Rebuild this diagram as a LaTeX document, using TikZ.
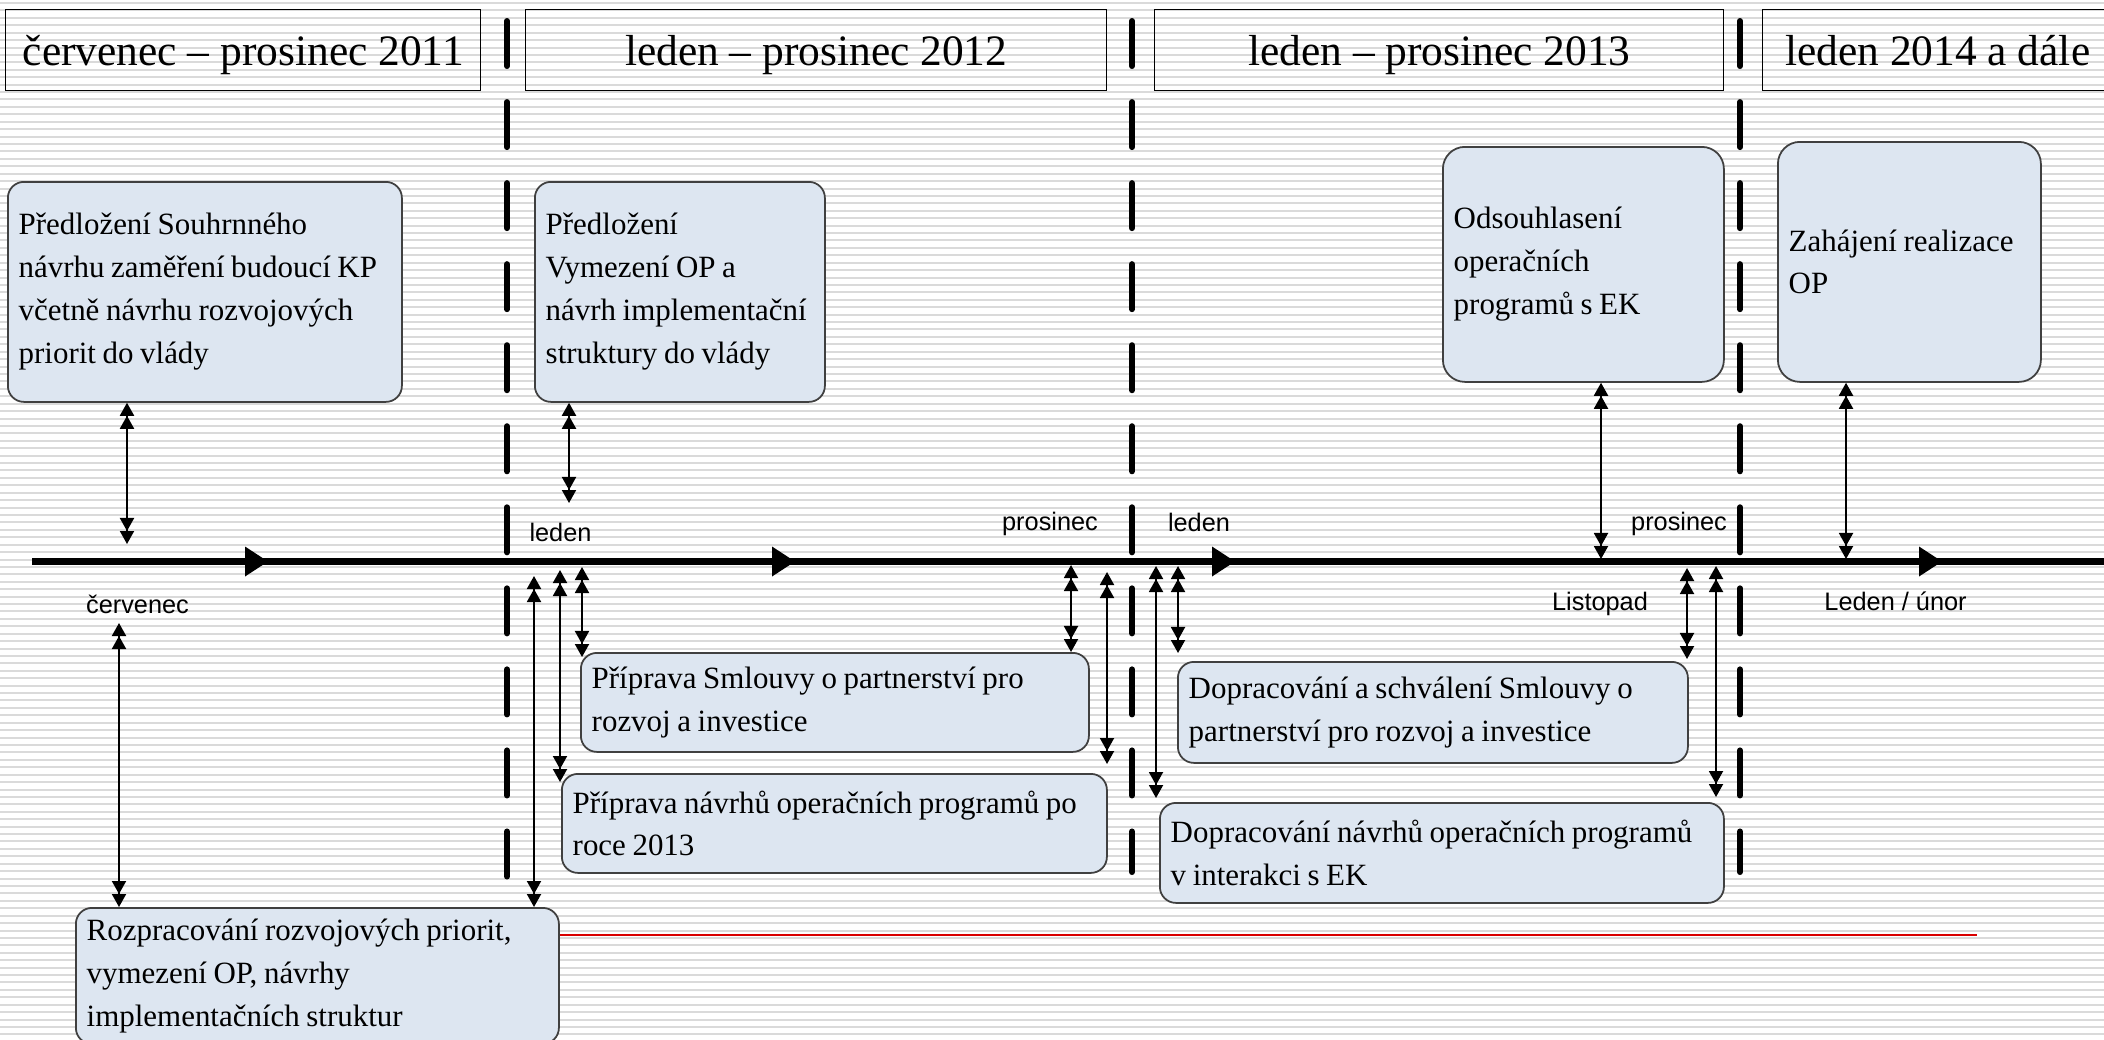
\documentclass[tikz,border=0pt]{standalone}
\usepackage{fontspec}
\setmainfont{Liberation Serif}
\setsansfont{Liberation Sans}
\newfontfamily\taskfont[WordSpace=0.85]{Liberation Serif}
\usetikzlibrary{arrows.meta, positioning}
\definecolor{taskfill}{RGB}{221,230,241}
\definecolor{stripegray}{RGB}{218,218,218}
\tikzset{dtip/.tip={Triangle[length=0.13cm, width=0.14cm] Triangle[length=0.13cm, width=0.14cm]}}
\newcommand{\taskbox}[7][]{%
  % #1=extra options, #2=name, #3=x, #4=y (top left), #5=width, #6=height, #7=text
  \pgfmathsetmacro\boxw{#5*0.01}
  \pgfmathsetmacro\boxh{#6*0.01}
  \node[taskframe, minimum width=\boxw cm, minimum height=\boxh cm, #1] (#2) at (#3,#4) {};
  \node[tasktext, right=0.11cm of #2.west] (#2-text) {#7};
}
\newcommand{\periodbox}[4]{%
  % #1=name, #2=x (left), #3=width, #4=text
  \pgfmathsetmacro\boxw{#3*0.01}
  \node[period, minimum width=\boxw cm] (#1) at (#2,9) {#4};
}

\begin{document}
\begin{tikzpicture}[x=0.01cm, y=-0.01cm,
  period/.style={draw=black, line width=0.4pt, minimum height=0.81cm, inner sep=0pt,
    text height=0.39cm, text depth=0.08cm,
    anchor=north west, font=\fontsize{12.35}{14}\selectfont},
  taskframe/.style={draw=black!75, fill=taskfill, line width=0.5pt, rounded corners=0.16cm,
    anchor=north west, inner sep=0pt},
  tasktext/.style={anchor=west, align=left, inner sep=0pt,
    font=\taskfont\fontsize{8.8}{12.2}\selectfont},
  month/.style={font=\sffamily\fontsize{7.2}{8}\selectfont, anchor=base, inner sep=0pt},
  divider/.style={line width=0.06cm, line cap=round, dash pattern=on 0.45cm off 0.36cm},
  dblarr/.style={line width=0.55pt, dtip-dtip},
]
\useasboundingbox (0,0) rectangle (2104,1039);

% Striped background
\fill[white] (0,0) rectangle (2104,1039);
\foreach \k in {0,...,140}
  \draw[stripegray, line width=0.02cm] (0,{\k*7.42+3}) -- (2104,{\k*7.42+3});

% Year dividers
\draw[divider] (507,21) -- (507,990);
\draw[divider] (1132,21) -- (1132,872);
\draw[divider] (1740,21) -- (1740,872);

% Periods
\periodbox{p2011}{5}{475}{červenec – prosinec 2011}
\periodbox{p2012}{525}{581}{leden – prosinec 2012}
\periodbox{p2013}{1154}{569}{leden – prosinec 2013}
\periodbox{p2014}{1762}{350}{leden 2014 a dále}

% Time axis
\coordinate (axis-l) at (32,561.5);
\coordinate (axis-r) at (2110,561.5);
\draw[line width=0.07cm] (axis-l) -- (axis-r);
\foreach \tx in {268, 795, 1235, 1942}
  \fill (\tx,561.5) -- ++(-23,-15) -- ++(0,30) -- cycle;

% Months on the axis
\node[month] (m-jul11) at (137.5,613) {červenec};
\node[month] (m-jan12) at (560.5,541) {leden};
\node[month] (m-dec12) at (1050,530) {prosinec};
\node[month] (m-jan13) at (1199,531) {leden};
\node[month] (m-dec13) at (1679,530) {prosinec};
\node[month] (m-nov13) at (1600,610) {Listopad};
\node[month] (m-jan14) at (1895.5,610) {Leden / únor};

% Red rule under the tasks
\coordinate (red-end) at (1977,935);

% Tasks above the axis
\taskbox{summary}{7}{181}{394}{220}{Předložení Souhrnného\\návrhu zaměření budoucí KP\\včetně návrhu rozvojových\\priorit do vlády}
\taskbox{scope}{534}{181}{290}{220}{Předložení\\Vymezení OP a\\návrh implementační\\struktury do vlády}
\taskbox[rounded corners=0.22cm]{approval}{1442}{146}{281}{235}{Odsouhlasení\\operačních\\programů s EK}
\taskbox[rounded corners=0.22cm]{launch}{1777}{141}{263}{240}{Zahájení realizace\\OP}

% Tasks below the axis
\taskbox{pa-prep}{580}{652}{508}{99}{Příprava Smlouvy o partnerství pro\\rozvoj a investice}
\taskbox{op-prep}{561}{773}{545}{99}{Příprava návrhů operačních programů po\\roce 2013}
\taskbox{pa-final}{1177}{661}{510}{101}{Dopracování a schválení Smlouvy o\\partnerství pro rozvoj a investice}
\taskbox{op-final}{1159}{802}{564}{100}{Dopracování návrhů operačních programů\\v interakci s EK}
\taskbox{priorities}{75}{907}{483}{136}{Rozpracování rozvojových priorit,\\vymezení OP, návrhy\\implementačních struktur}

\draw[red!85!black, line width=0.4pt] (red-end -| priorities.east) -- (red-end);

% Arrow ends
\coordinate (a1) at (127,544);
\coordinate (a2) at (569,503);
\coordinate (a3) at (119,623);
\coordinate (a4) at (534,576);
\coordinate (a5) at (560,570);   \coordinate (a5e) at (560,782);
\coordinate (a6) at (582,567);   \coordinate (a6e) at (582,657);
\coordinate (a7) at (1071,565);
\coordinate (a8) at (1107,572);  \coordinate (a8e) at (1107,764);
\coordinate (a9) at (1156,566);  \coordinate (a9e) at (1156,798);
\coordinate (a10) at (1178,566); \coordinate (a10e) at (1178,653);
\coordinate (a11) at (1601,559);
\coordinate (a12) at (1846,559);
\coordinate (a13) at (1687,568); \coordinate (a13e) at (1687,659);
\coordinate (a14) at (1716,566); \coordinate (a14e) at (1716,797);

% Arrows
\draw[dblarr] (summary.south -| a1) -- (a1);
\draw[dblarr] (scope.south -| a2) -- (a2);
\draw[dblarr] (a3) -- (a3 |- priorities.north);
\draw[dblarr] (a4) -- (a4 |- priorities.north);
\draw[dblarr] (a5) -- (a5e);
\draw[dblarr] (a6) -- (a6e);
\draw[dblarr] (a7) -- (a7 |- pa-prep.north);
\draw[dblarr] (a8) -- (a8e);
\draw[dblarr] (a9) -- (a9e);
\draw[dblarr] (a10) -- (a10e);
\draw[dblarr] (approval.south -| a11) -- (a11);
\draw[dblarr] (launch.south -| a12) -- (a12);
\draw[dblarr] (a13) -- (a13e);
\draw[dblarr] (a14) -- (a14e);

\end{tikzpicture}
\end{document}
